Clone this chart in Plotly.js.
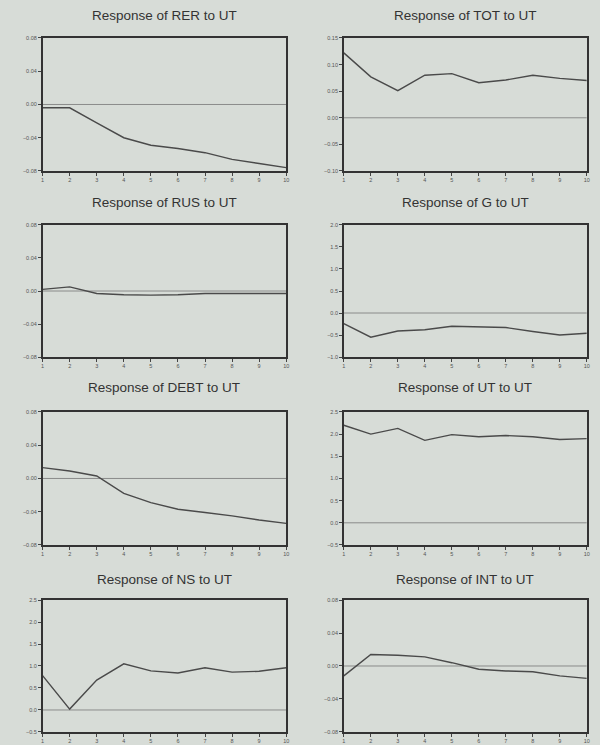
<!DOCTYPE html>
<html><head><meta charset="utf-8">
<script src="https://cdn.plot.ly/plotly-3.0.1.min.js"></script>
<style>body{margin:0;background:#d7dcd7}</style>
</head><body><div id="chart" style="width:600px;height:745px"></div>
<script>
const periods = [1,2,3,4,5,6,7,8,9,10];
const titles = ["Response of RER to UT","Response of TOT to UT","Response of RUS to UT","Response of G to UT",
                "Response of DEBT to UT","Response of UT to UT","Response of NS to UT","Response of INT to UT"];
const rer  = [-0.004,-0.004,-0.022,-0.040,-0.049,-0.053,-0.058,-0.066,-0.071,-0.076];
const tot  = [0.122,0.077,0.051,0.080,0.083,0.066,0.071,0.080,0.074,0.070];
const rus  = [0.002,0.005,-0.003,-0.0045,-0.005,-0.0045,-0.003,-0.003,-0.003,-0.003];
const g    = [-0.24,-0.55,-0.41,-0.38,-0.30,-0.32,-0.33,-0.42,-0.50,-0.46];
const debt = [0.013,0.009,0.003,-0.018,-0.029,-0.037,-0.041,-0.045,-0.050,-0.054];
const ut   = [2.20,2.00,2.13,1.86,1.99,1.94,1.97,1.94,1.88,1.90];
const ns   = [0.78,0.02,0.68,1.05,0.89,0.84,0.96,0.86,0.88,0.96];
const intr = [-0.012,0.014,0.013,0.011,0.004,-0.004,-0.006,-0.007,-0.012,-0.015];
const series = [rer,tot,rus,g,debt,ut,ns,intr];
const yTicks = [
  [-0.08,-0.04,0,0.04,0.08],
  [-0.10,-0.05,0,0.05,0.10,0.15],
  [-0.08,-0.04,0,0.04,0.08],
  [-1.0,-0.5,0,0.5,1.0,1.5,2.0],
  [-0.08,-0.04,0,0.04,0.08],
  [-0.5,0,0.5,1.0,1.5,2.0,2.5],
  [-0.5,0,0.5,1.0,1.5,2.0,2.5],
  [-0.08,-0.04,0,0.04,0.08]
];
const yFmt = [".2f",".2f",".2f",".1f",".2f",".1f",".1f",".2f"];

const xDom = [[0.071,0.477],[0.573,0.978]];
const yDom = [[0.7705,0.949],[0.5208,0.698],[0.2685,0.447],[0.0175,0.1946]];
const titleY = [16,202,387,579];

const traces = [], shapes = [], annotations = [];
const layout = {
  width:600, height:745, showlegend:false,
  paper_bgcolor:"#d7dcd7", plot_bgcolor:"#d7dcd7",
  margin:{l:0,r:0,t:0,b:0},
  font:{family:"Arial, Liberation Sans, sans-serif", color:"#444"}
};
series.forEach((s,i)=>{
  const n = i+1, row = Math.floor(i/2), col = i%2;
  const xa = "x"+(n===1?"":n), ya = "y"+(n===1?"":n);
  traces.push({x:periods, y:s, xaxis:xa, yaxis:ya, mode:"lines",
    line:{color:"#4a4a4a", width:1.4}, hoverinfo:"skip"});
  const tk = yTicks[i];
  layout["xaxis"+(n===1?"":n)] = {domain:xDom[col], anchor:ya, range:[1,10],
    tickvals:periods, ticks:"outside", ticklen:3, tickcolor:"#444",
    tickfont:{size:5.5,color:"#555"}, showgrid:false, zeroline:false,
    showline:true, mirror:true, linecolor:"#333", linewidth:1.7};
  layout["yaxis"+(n===1?"":n)] = {domain:yDom[row], anchor:xa,
    range:[tk[0], tk[tk.length-1]], tickvals:tk, tickformat:yFmt[i],
    ticks:"outside", ticklen:3, tickcolor:"#444",
    tickfont:{size:5.5,color:"#555"}, showgrid:false, zeroline:false,
    showline:true, mirror:true, linecolor:"#333", linewidth:1.7};
  shapes.push({type:"line", xref:xa, yref:ya, x0:1, x1:10, y0:0, y1:0,
    line:{color:"#777", width:0.8}, layer:"below"});
  annotations.push({text:titles[i], xref:"paper", yref:"paper",
    x:(xDom[col][0]+xDom[col][1])/2, y:1-titleY[row]/745,
    xanchor:"center", yanchor:"middle", showarrow:false,
    font:{size:13.5,color:"#333"}});
});
layout.shapes = shapes;
layout.annotations = annotations;
Plotly.newPlot("chart", traces, layout, {displayModeBar:false, staticPlot:true});
</script></body></html>
